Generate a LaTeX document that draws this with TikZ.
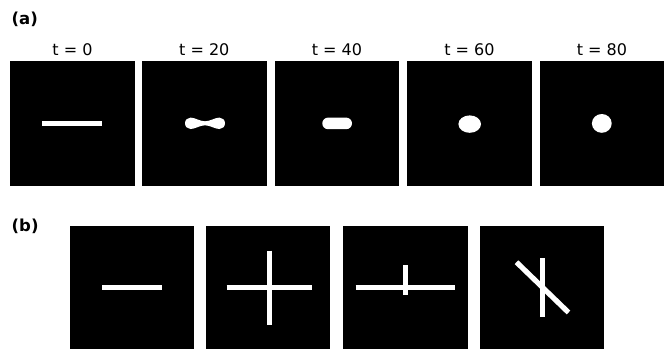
\documentclass[tikz,border=0pt]{standalone}
\usepackage{fontspec}
\setmainfont{DejaVu Sans}
\begin{document}
\begin{tikzpicture}[x=1pt,y=-1pt,
  panel/.style={fill=black,draw=none},
  bar/.style={draw=white,line width=5.2pt,line cap=butt},
  blob/.style={fill=white,draw=none},
  tlabel/.style={anchor=base,inner sep=0pt,font=\fontsize{16}{18}\selectfont},
  plabel/.style={anchor=base west,inner sep=0pt,font=\fontsize{16.5}{18}\selectfont\bfseries}]
\useasboundingbox (0,0) rectangle (670,349);
% part labels
\node[plabel] (la) at (11.5,24.5) {(a)};
\node[plabel] (lb) at (11.5,231) {(b)};
% row (a) panels
\fill[panel] (10,61) rectangle (135,185.7);
\fill[panel] (142,61) rectangle (266.7,185.7);
\fill[panel] (275,61) rectangle (399,185.7);
\fill[panel] (407,61) rectangle (531.7,185.7);
\fill[panel] (540,61) rectangle (664.3,185.7);
% time labels
\node[tlabel] (t0) at (72.5,55.5) {t = 0};
\node[tlabel] (t20) at (204.3,55.5) {t = 20};
\node[tlabel] (t40) at (337,55.5) {t = 40};
\node[tlabel] (t60) at (469.5,55.5) {t = 60};
\node[tlabel] (t80) at (602,55.5) {t = 80};
% shapes row (a)
\draw[bar] (42.3,123.4) -- (101.7,123.4);
\fill[blob,shift={(205,123.3)}] (20,0) .. controls (20,-3.2) and (17.6,-5.7) .. (14.5,-5.7)
  .. controls (10,-5.7) and (5,-2) .. (0,-2)
  .. controls (-5,-2) and (-10,-5.7) .. (-14.5,-5.7)
  .. controls (-17.6,-5.7) and (-20,-3.2) .. (-20,0)
  .. controls (-20,3.2) and (-17.6,5.7) .. (-14.5,5.7)
  .. controls (-10,5.7) and (-5,2) .. (0,2)
  .. controls (5,2) and (10,5.7) .. (14.5,5.7)
  .. controls (17.6,5.7) and (20,3.2) .. (20,0) -- cycle;
\fill[blob,rounded corners=5.8pt] (322.3,117.6) rectangle (352,129.2);
\fill[blob] (469.7,124.1) ellipse [x radius=11.3, y radius=8.7];
\fill[blob] (601.8,123.4) ellipse [x radius=9.9, y radius=9.4];
% row (b) panels
\fill[panel] (70,226) rectangle (194,349);
\fill[panel] (206,226) rectangle (330.3,349);
\fill[panel] (343,226) rectangle (467.7,349);
\fill[panel] (480,226) rectangle (604.3,349);
% shapes row (b)
\draw[bar] (102.3,287.7) -- (162,287.7);
\draw[bar] (226.7,287.7) -- (311.7,287.7);
\draw[bar] (269.2,250.7) -- (269.2,325);
\draw[bar] (355.7,287.7) -- (455.3,287.7);
\draw[bar] (405.3,265.3) -- (405.3,295);
\draw[bar] (542.5,258.3) -- (542.5,317.3);
\draw[bar] (516.5,262.2) -- (568.5,312.5);
\end{tikzpicture}
\end{document}
